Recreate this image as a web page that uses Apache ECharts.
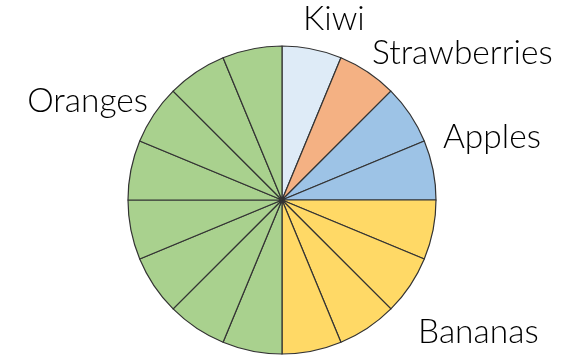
<!DOCTYPE html>
<html>
<head>
<meta charset="utf-8">
<script src="https://cdn.jsdelivr.net/npm/echarts@6/dist/echarts.min.js"></script>
<style>html,body{margin:0;padding:0;background:#fff}#c{width:561px;height:355px}</style>
</head>
<body>
<div id="c"></div>
<script>
// Data: number of slices per fruit (clockwise from 12 o'clock)
const fruits = ['Kiwi', 'Strawberries', 'Apples', 'Bananas', 'Oranges'];
const counts = [1, 1, 2, 4, 8];
const colors = ['#deebf7', '#f4b183', '#9dc3e6', '#ffd966', '#a9d18e'];

// Label placement (style)
const labelPos = {
  'Kiwi':         {x: 303, y: 19, align: 'left'},
  'Strawberries': {x: 372, y: 53, align: 'left'},
  'Apples':       {x: 443, y: 137, align: 'left'},
  'Bananas':      {x: 418, y: 332, align: 'left'},
  'Oranges':      {x: 148, y: 101, align: 'right'}
};

const slices = [];
fruits.forEach((f, i) => {
  for (let k = 0; k < counts[i]; k++) {
    slices.push({name: f, value: 1, itemStyle: {color: colors[i]}});
  }
});

const chart = echarts.init(document.getElementById('c'), null, {renderer: 'canvas'});
chart.setOption({
  animation: false,
  series: [
    {
      type: 'pie',
      center: [282, 200],
      radius: 154,
      startAngle: 90,
      clockwise: true,
      silent: true,
      label: {show: false},
      labelLine: {show: false},
      itemStyle: {borderColor: '#333333', borderWidth: 1.2},
      data: slices
    },
    {
      type: 'pie',
      center: [282, 200],
      radius: 154,
      startAngle: 90,
      clockwise: true,
      silent: true,
      itemStyle: {color: 'rgba(0,0,0,0)', borderWidth: 0},
      label: {
        show: true,
        position: 'outside',
        formatter: '{b}',
        fontFamily: 'Lato',
        fontWeight: 300,
        fontSize: 33.5,
        color: '#000',
        overflow: 'none',
        width: 300
      },
      labelLine: {show: false},
      labelLayout: function (p) {
        const lp = labelPos[p.text];
        if (!lp) return {};
        return {x: lp.x, y: lp.y, align: lp.align, verticalAlign: 'middle', hideOverlap: false, moveOverlap: false};
      },
      data: fruits.map((f, i) => ({name: f, value: counts[i]}))
    }
  ]
});
</script>
</body>
</html>
